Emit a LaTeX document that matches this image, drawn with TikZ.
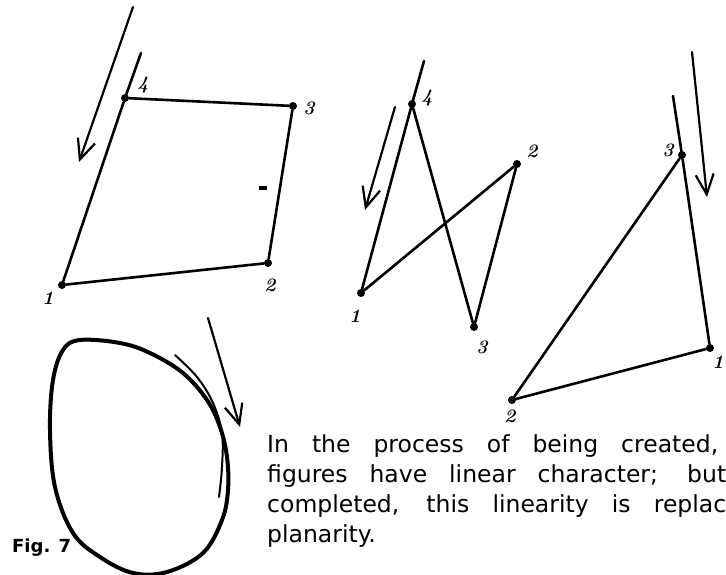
\documentclass[tikz,border=0pt]{standalone}
\usepackage{fontspec}
\newfontfamily\capfont{DejaVu Sans}
\usetikzlibrary{arrows.meta}

\begin{document}
\begin{tikzpicture}[x=1pt, y=-1pt,
    vertex/.style={circle, fill=black, inner sep=0pt, minimum size=8pt},
    edge/.style={line width=2.6pt, line cap=round, line join=round},
    flow/.style={line width=2.2pt, line cap=round, -{Straight Barb[length=20pt, width=18pt, line width=2.2pt]}},
    num/.style={font=\fontsize{19}{19}\selectfont\bfseries\itshape, inner sep=0pt},
    para/.style={font=\capfont\fontsize{23.5}{30}\selectfont, align=left, inner sep=0pt}
]
    \useasboundingbox (0,0) rectangle (726,575);

    % quadrilateral
    \node[vertex] (qa1) at (62,285) {};
    \node[vertex] (qa2) at (268,263) {};
    \node[vertex] (qa3) at (293,106) {};
    \node[vertex] (qa4) at (125,98) {};
    \coordinate (qa4tail) at (141,53);
    \node[num] at (48,298) {1};
    \node[num] at (270,285) {2};
    \node[num] at (309,108) {3};
    \node[num] at (143,85) {4};
    \draw[edge] (qa1) -- (qa2) -- (qa3) -- (qa4) -- (qa1);
    \draw[edge] (qa4.center) -- (qa4tail);
    \draw[line width=3.5pt] (259,188) -- (267,188);
    \coordinate (qaf1) at (133,7);
    \coordinate (qaf2) at (79,162);
    \draw[flow] (qaf1) -- (qaf2);

    % crossed figure
    \node[vertex] (zb1) at (361,293) {};
    \node[vertex] (zb2) at (517,164) {};
    \node[vertex] (zb3) at (474,327) {};
    \node[vertex] (zb4) at (412,104) {};
    \coordinate (zb4tail) at (424,61);
    \node[num] at (355,316) {1};
    \node[num] at (532,151) {2};
    \node[num] at (482,347) {3};
    \node[num] at (427,98) {4};
    \draw[edge] (zb1) -- (zb4) -- (zb3) -- (zb2) -- (zb1);
    \draw[edge] (zb4.center) -- (zb4tail);
    \coordinate (zbf1) at (395,107);
    \coordinate (zbf2) at (365,210);
    \draw[flow] (zbf1) -- (zbf2);

    % triangle
    \node[vertex] (tc1) at (710,348) {};
    \node[vertex] (tc2) at (512,400) {};
    \node[vertex] (tc3) at (682,155) {};
    \coordinate (tc3tail) at (673,96);
    \node[num] at (718,362) {1};
    \node[num] at (510,416) {2};
    \node[num] at (668,150) {3};
    \draw[edge] (tc3) -- (tc1) -- (tc2) -- (tc3);
    \draw[edge] (tc3.center) -- (tc3tail);
    \coordinate (tcf1) at (692,52);
    \coordinate (tcf2) at (707,197);
    \draw[flow] (tcf1) -- (tcf2);

    % closed curve
    \draw[line width=4pt] plot[smooth cycle, tension=0.6] coordinates {
        (80,340) (120,343) (150,353) (183,373) (207,400) (220,427)
        (227,457) (228,490) (222,520) (203,553) (167,572) (133,573)
        (100,557) (73,533) (55,487) (50,430) (53,380) (63,350)};
    \draw[line width=2pt, line cap=round] plot[smooth, tension=0.6] coordinates {
        (175,355) (197,377) (213,403) (222,433) (222,467) (219,497)};
    \coordinate (egf1) at (208,318);
    \coordinate (egf2) at (240,427);
    \draw[flow] (egf1) -- (egf2);
    \node[font=\capfont\bfseries\fontsize{18}{18}\selectfont, anchor=base west, inner sep=0pt] (figlabel) at (12,552) {Fig. 7};

    % caption
    \node[para, anchor=north west] (caption) at (267,434) {%
        \makebox[451pt][s]{In the process of being created,}\\
        \makebox[459pt][s]{figures have linear character; but}\\
        \makebox[459pt][s]{completed, this linearity is replac}\\
        planarity.};
\end{tikzpicture}
\end{document}
